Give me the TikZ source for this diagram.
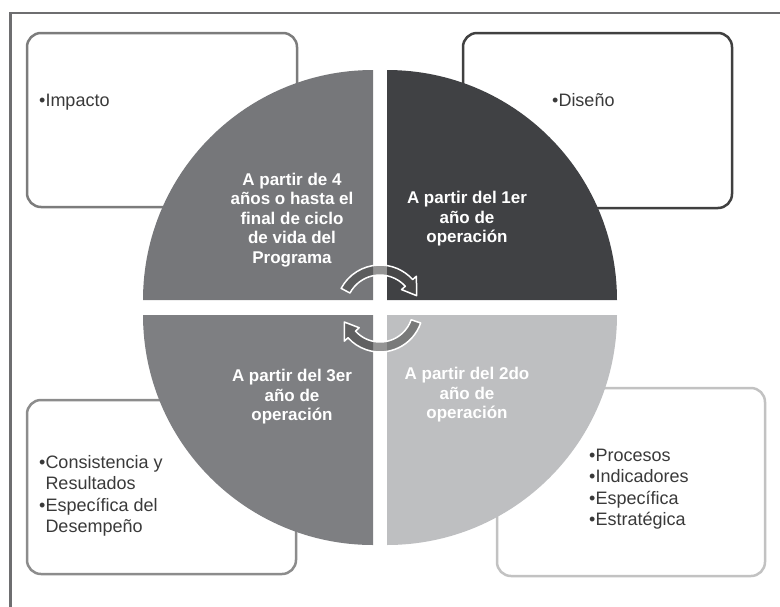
\documentclass[tikz,border=0pt]{standalone}
\usepackage{fontspec}
\setmainfont{Liberation Sans}
\definecolor{frameg}{HTML}{6E6E70}
\definecolor{qTL}{HTML}{76777A}
\definecolor{qTR}{HTML}{404144}
\definecolor{qBL}{HTML}{7E7F82}
\definecolor{qBR}{HTML}{BEBFC1}
\definecolor{bTL}{HTML}{7C7C7C}
\definecolor{bTR}{HTML}{404040}
\definecolor{bBL}{HTML}{8C8C8C}
\definecolor{bBR}{HTML}{C2C2C2}
\definecolor{boxtext}{HTML}{3A3A3A}

\begin{document}

\begin{tikzpicture}[x=1pt,y=1pt,
  box/.style={draw=#1, line width=2.5pt, rounded corners=14pt, fill=white, inner sep=0pt},
  btext/.style={text=boxtext, font=\fontsize{18}{21.5}\selectfont, align=left, inner sep=0pt},
  qtext/.style={text=white, font=\fontsize{17}{19.5}\selectfont\bfseries, align=center, inner sep=0pt},
  cyc/.style={fill=gray!60!black, fill opacity=0.6, draw=white, line width=1.5pt, line join=round}]
\useasboundingbox (0,0) rectangle (780,-606);
\clip (0,0) rectangle (780,-606);
% outer frame
\draw[frameg, line width=2.6pt] (10.5,-13) rectangle (800,-630);
% corner boxes
\node[box=bTL, minimum width=270pt, minimum height=174pt] (boxTL) at (162,-120) {};
\node[box=bTR, minimum width=269pt, minimum height=175pt] (boxTR) at (597.5,-120.5) {};
\node[box=bBL, minimum width=269pt, minimum height=174pt] (boxBL) at (161.5,-487) {};
\node[box=bBR, minimum width=268pt, minimum height=188pt] (boxBR) at (631,-482) {};
% quadrants
\fill[qTL] (373,-300) -- ++(-230,0) arc[start angle=180, end angle=90, radius=230] -- cycle;
\fill[qTR] (387,-300) -- ++(0,230) arc[start angle=90, end angle=0, radius=230] -- cycle;
\fill[qBL] (373,-315) -- ++(-230,0) arc[start angle=180, end angle=270, radius=230] -- cycle;
\fill[qBR] (387,-315) -- ++(230,0) arc[start angle=0, end angle=-90, radius=230] -- cycle;
% cycle arrows
\begin{scope}[shift={(380,-309)}]
\draw[cyc] (152:44) arc[start angle=152, end angle=42, radius=44] -- (42:49) -- (20:39) -- (42:29) -- (42:34) arc[start angle=42, end angle=152, radius=34] -- cycle;
\draw[cyc] (-19:43) arc[start angle=-19, end angle=-138, radius=43] -- (-138:48) -- (-160:38) -- (-138:28) -- (-138:33) arc[start angle=-138, end angle=-19, radius=33] -- cycle;
\end{scope}
% quadrant texts
\node[qtext] (qTLt) at (292,-220) {A partir de 4\\años o hasta el\\final de ciclo\\de vida del\\Programa};
\node[qtext] (qTRt) at (467,-219) {A partir del 1er\\año de\\operación};
\node[qtext] (qBLt) at (292,-397) {A partir del 3er\\año de\\operación};
\node[qtext] (qBRt) at (467,-395) {A partir del 2do\\año de\\operación};
% box texts
\node[btext, anchor=base west] (tTL) at (39,-106) {•Impacto};
\node[btext, anchor=base west] (tTR) at (552,-106) {•Diseño};
\node[btext, anchor=west] (tBL) at (39,-496) {•Consistencia y\\\hphantom{•}Resultados\\•Específica del\\\hphantom{•}Desempeño};
\node[btext, anchor=west] (tBR) at (589,-489) {•Procesos\\•Indicadores\\•Específica\\•Estratégica};
\end{tikzpicture}

\end{document}
